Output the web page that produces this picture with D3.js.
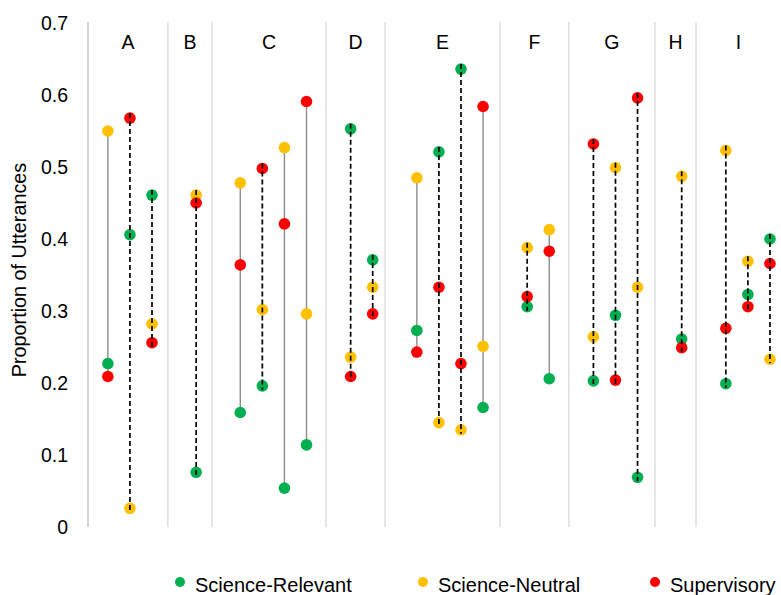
<!DOCTYPE html>
<html>
<head>
<meta charset="utf-8">
<script src="https://cdn.jsdelivr.net/npm/d3@7"></script>
<style>
  body { margin: 0; background: #fff; }
  text { font-family: "Liberation Sans", Arial, sans-serif; fill: #000; }
</style>
</head>
<body>
<div id="chart"></div>
<script>
// groups and where their separators sit (in slot units)
var groups = ["A", "B", "C", "D", "E", "F", "G", "H", "I"];
var groupBounds = [-0.9, 2.72, 4.72, 9.88, 12.56, 17.77, 20.89, 24.79, 26.65, 30.5];

// one entry per column
var slots = [0, 1, 2, 4, 6, 7, 8, 9, 11, 12, 14, 15, 16, 17, 19, 20, 22, 23, 24, 26, 28, 29, 30];
var lineStyle = ["solid", "dashed", "dashed", "dashed", "solid", "dashed", "solid", "solid",
                 "dashed", "dashed", "solid", "dashed", "dashed", "solid", "dashed", "solid",
                 "dashed", "dashed", "dashed", "dashed", "dashed", "dashed", "dashed"];
var relevant = [0.227, 0.406, 0.461, 0.076, 0.159, 0.196, 0.054, 0.114, 0.553, 0.371, 0.273, 0.521,
                0.636, 0.166, 0.306, 0.206, 0.203, 0.294, 0.069, 0.261, 0.199, 0.323, 0.400];
var neutral = [0.550, 0.026, 0.282, 0.461, 0.478, 0.302, 0.527, 0.296, 0.236, 0.333, 0.485, 0.145,
               0.135, 0.251, 0.388, 0.413, 0.264, 0.499, 0.333, 0.487, 0.523, 0.369, 0.233];
var supervisory = [0.209, 0.568, 0.256, 0.450, 0.364, 0.498, 0.421, 0.591, 0.209, 0.296, 0.243, 0.333,
                   0.227, 0.584, 0.320, 0.383, 0.532, 0.204, 0.596, 0.249, 0.276, 0.306, 0.366];

var seriesNames = ["Science-Relevant", "Science-Neutral", "Supervisory"];
var seriesColors = ["#00b050", "#ffc000", "#ff0000"];
var yTicks = [0, 0.1, 0.2, 0.3, 0.4, 0.5, 0.6, 0.7];

var width = 781, height = 595;
var plotTop = 22, plotBottom = 527;

var svg = d3.select("#chart").append("svg")
  .attr("width", width)
  .attr("height", height);

var x = d3.scaleLinear().domain([groupBounds[0], groupBounds[groupBounds.length - 1]]).range([88, 781]);
var y = d3.scaleLinear().domain([0, 0.7]).range([527, 23]);

// separators
svg.selectAll("line.sep")
  .data(groupBounds.slice(0, -1))
  .enter().append("line")
  .attr("class", "sep")
  .attr("x1", function(d) { return x(d); })
  .attr("x2", function(d) { return x(d); })
  .attr("y1", plotTop)
  .attr("y2", plotBottom)
  .style("stroke", function(d, i) { return i == 0 ? "#bfbfbf" : "#d9d9d9"; })
  .style("stroke-width", 1.3);

// group labels
svg.selectAll("text.grp")
  .data(groups)
  .enter().append("text")
  .attr("class", "grp")
  .attr("x", function(d, i) { return x((groupBounds[i] + groupBounds[i + 1]) / 2); })
  .attr("y", 49)
  .attr("text-anchor", "middle")
  .style("font-size", "19.5px")
  .text(function(d) { return d; });

// y tick labels
svg.selectAll("text.ytick")
  .data(yTicks)
  .enter().append("text")
  .attr("class", "ytick")
  .attr("x", 68)
  .attr("y", function(d) { return y(d); })
  .attr("dy", "0.35em")
  .attr("text-anchor", "end")
  .style("font-size", "19.5px")
  .text(function(d) { return d == 0 ? "0" : d3.format(".1f")(d); });

svg.append("text")
  .attr("transform", "translate(26,270) rotate(-90)")
  .attr("text-anchor", "middle")
  .style("font-size", "19.8px")
  .text("Proportion of Utterances");

var cols = slots.map(function(s, i) {
  var vals = [relevant[i], neutral[i], supervisory[i]];
  return { slot: s, style: lineStyle[i], vals: vals, lo: d3.min(vals), hi: d3.max(vals) };
});

// solid connectors sit behind the dots
svg.selectAll("line.solid")
  .data(cols.filter(function(c) { return c.style == "solid"; }))
  .enter().append("line")
  .attr("x1", function(c) { return x(c.slot); })
  .attr("x2", function(c) { return x(c.slot); })
  .attr("y1", function(c) { return y(c.hi); })
  .attr("y2", function(c) { return y(c.lo); })
  .style("stroke", "#8c8c8c")
  .style("stroke-width", 1.4);

// dots
seriesNames.forEach(function(name, k) {
  svg.selectAll("circle.s" + k)
    .data(cols)
    .enter().append("circle")
    .attr("cx", function(c) { return x(c.slot); })
    .attr("cy", function(c) { return y(c.vals[k]); })
    .attr("r", 5.8)
    .style("fill", seriesColors[k]);
});

// dashed connectors are drawn over the dots
svg.selectAll("line.dash")
  .data(cols.filter(function(c) { return c.style == "dashed"; }))
  .enter().append("line")
  .attr("x1", function(c) { return x(c.slot); })
  .attr("x2", function(c) { return x(c.slot); })
  .attr("y1", function(c) { return y(c.hi) - 5; })
  .attr("y2", function(c) { return y(c.lo) + 4; })
  .style("stroke", "#000")
  .style("stroke-width", 1.7)
  .style("stroke-dasharray", "5,3");

// legend
var legendX = [180, 423, 655];
var lg = svg.selectAll("g.legend")
  .data(seriesNames)
  .enter().append("g")
  .attr("transform", function(d, i) { return "translate(" + legendX[i] + ",582)"; });

lg.append("circle")
  .attr("r", 5)
  .style("fill", function(d, i) { return seriesColors[i]; });

lg.append("text")
  .attr("x", 15)
  .attr("y", 3)
  .attr("dy", "0.35em")
  .style("font-size", "20px")
  .text(function(d) { return d; });
</script>
</body>
</html>
